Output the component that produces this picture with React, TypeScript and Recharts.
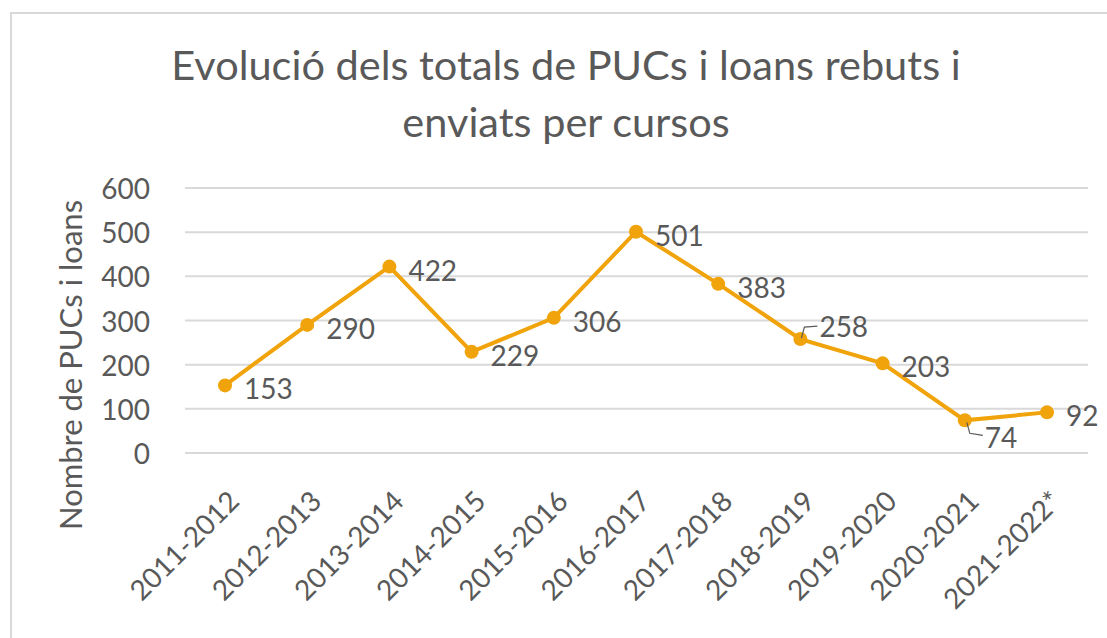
import React from 'react';
import { LineChart, Line, XAxis, YAxis, CartesianGrid, LabelList } from 'recharts';

const courses = [
  '2011-2012', '2012-2013', '2013-2014', '2014-2015', '2015-2016', '2016-2017',
  '2017-2018', '2018-2019', '2019-2020', '2020-2021', '2021-2022*',
];
const totals = [153, 290, 422, 229, 306, 501, 383, 258, 203, 74, 92];
const yTicks = [0, 100, 200, 300, 400, 500, 600];

const data = courses.map((course, i) => ({ course, total: totals[i] }));

const FONT = 'Lato, "Open Sans", sans-serif';
const TEXT = '#595959';
const GOLD = '#F0A30A';

const XTick = (props: any) => {
  const { x, y, payload } = props;
  return (
    <text
      transform={`translate(${x + 16},${y + 42}) rotate(-45)`}
      textAnchor="end"
      fontSize={28}
      fontFamily={FONT}
      fill={TEXT}
    >
      {payload.value}
    </text>
  );
};

const YTick = (props: any) => {
  const { y, payload } = props;
  return (
    <text x={150} y={y} textAnchor="end" dominantBaseline="central" fontSize={28} fontFamily={FONT} fill={TEXT}>
      {payload.value}
    </text>
  );
};

const PointLabel = (props: any) => {
  const { x, y, value, index } = props;
  const style = { fontSize: 28, fontFamily: FONT, fill: TEXT };
  if (index === 7) {
    return (
      <g>
        <polyline points={`${x + 1},${y - 1} ${x + 4},${y - 12} ${x + 17},${y - 13}`} fill="none" stroke={TEXT} strokeWidth={1.2} />
        <text x={x + 19} y={y - 13} dominantBaseline="central" {...style}>{value}</text>
      </g>
    );
  }
  if (index === 9) {
    return (
      <g>
        <polyline points={`${x + 2},${y + 2} ${x + 5},${y + 13} ${x + 18},${y + 15}`} fill="none" stroke={TEXT} strokeWidth={1.2} />
        <text x={x + 20} y={y + 17} dominantBaseline="central" {...style}>{value}</text>
      </g>
    );
  }
  return (
    <text x={x + 19} y={y + 3} dominantBaseline="central" {...style}>{value}</text>
  );
};

export default function App() {
  return (
    <div style={{ position: 'absolute', left: 0, top: 0, width: 1107, height: 638, background: '#fff', overflow: 'hidden' }}>
      <div style={{ position: 'absolute', left: 10, top: 12, width: 1120, height: 660, border: '2px solid #D9D9D9', boxSizing: 'border-box' }} />
      <div
        style={{
          position: 'absolute', left: 0, top: 36, width: 1132, textAlign: 'center',
          fontFamily: FONT, fontSize: 41.5, color: TEXT, lineHeight: '57px',
        }}
      >
        Evolució dels totals de PUCs i loans rebuts i<br />enviats per cursos
      </div>
      <div
        style={{
          position: 'absolute', left: 70, top: 365, width: 0, height: 0,
        }}
      >
        <div
          style={{
            position: 'absolute', transform: 'translate(-50%, -50%) rotate(-90deg)', whiteSpace: 'nowrap',
            fontFamily: FONT, fontSize: 31, color: TEXT,
          }}
        >
          Nombre de PUCs i loans
        </div>
      </div>
      <div style={{ position: 'absolute', left: 0, top: 0 }}>
        <LineChart width={1107} height={638} data={data} margin={{ top: 188, right: 19, bottom: 0, left: 0 }}>
          <CartesianGrid vertical={false} stroke="#D9D9D9" strokeWidth={2} />
          <XAxis
            dataKey="course"
            height={185}
            axisLine={false}
            tickLine={false}
            tick={<XTick />}
            interval={0}
            padding={{ left: 40, right: 41 }}
          />
          <YAxis width={185} domain={[0, 600]} ticks={yTicks} axisLine={false} tickLine={false} tick={<YTick />} />
          <Line
            type="linear"
            dataKey="total"
            stroke={GOLD}
            strokeWidth={4}
            dot={{ r: 7, fill: GOLD, stroke: GOLD, strokeWidth: 0 }}
            isAnimationActive={false}
          >
            <LabelList dataKey="total" content={<PointLabel />} />
          </Line>
        </LineChart>
      </div>
    </div>
  );
}
